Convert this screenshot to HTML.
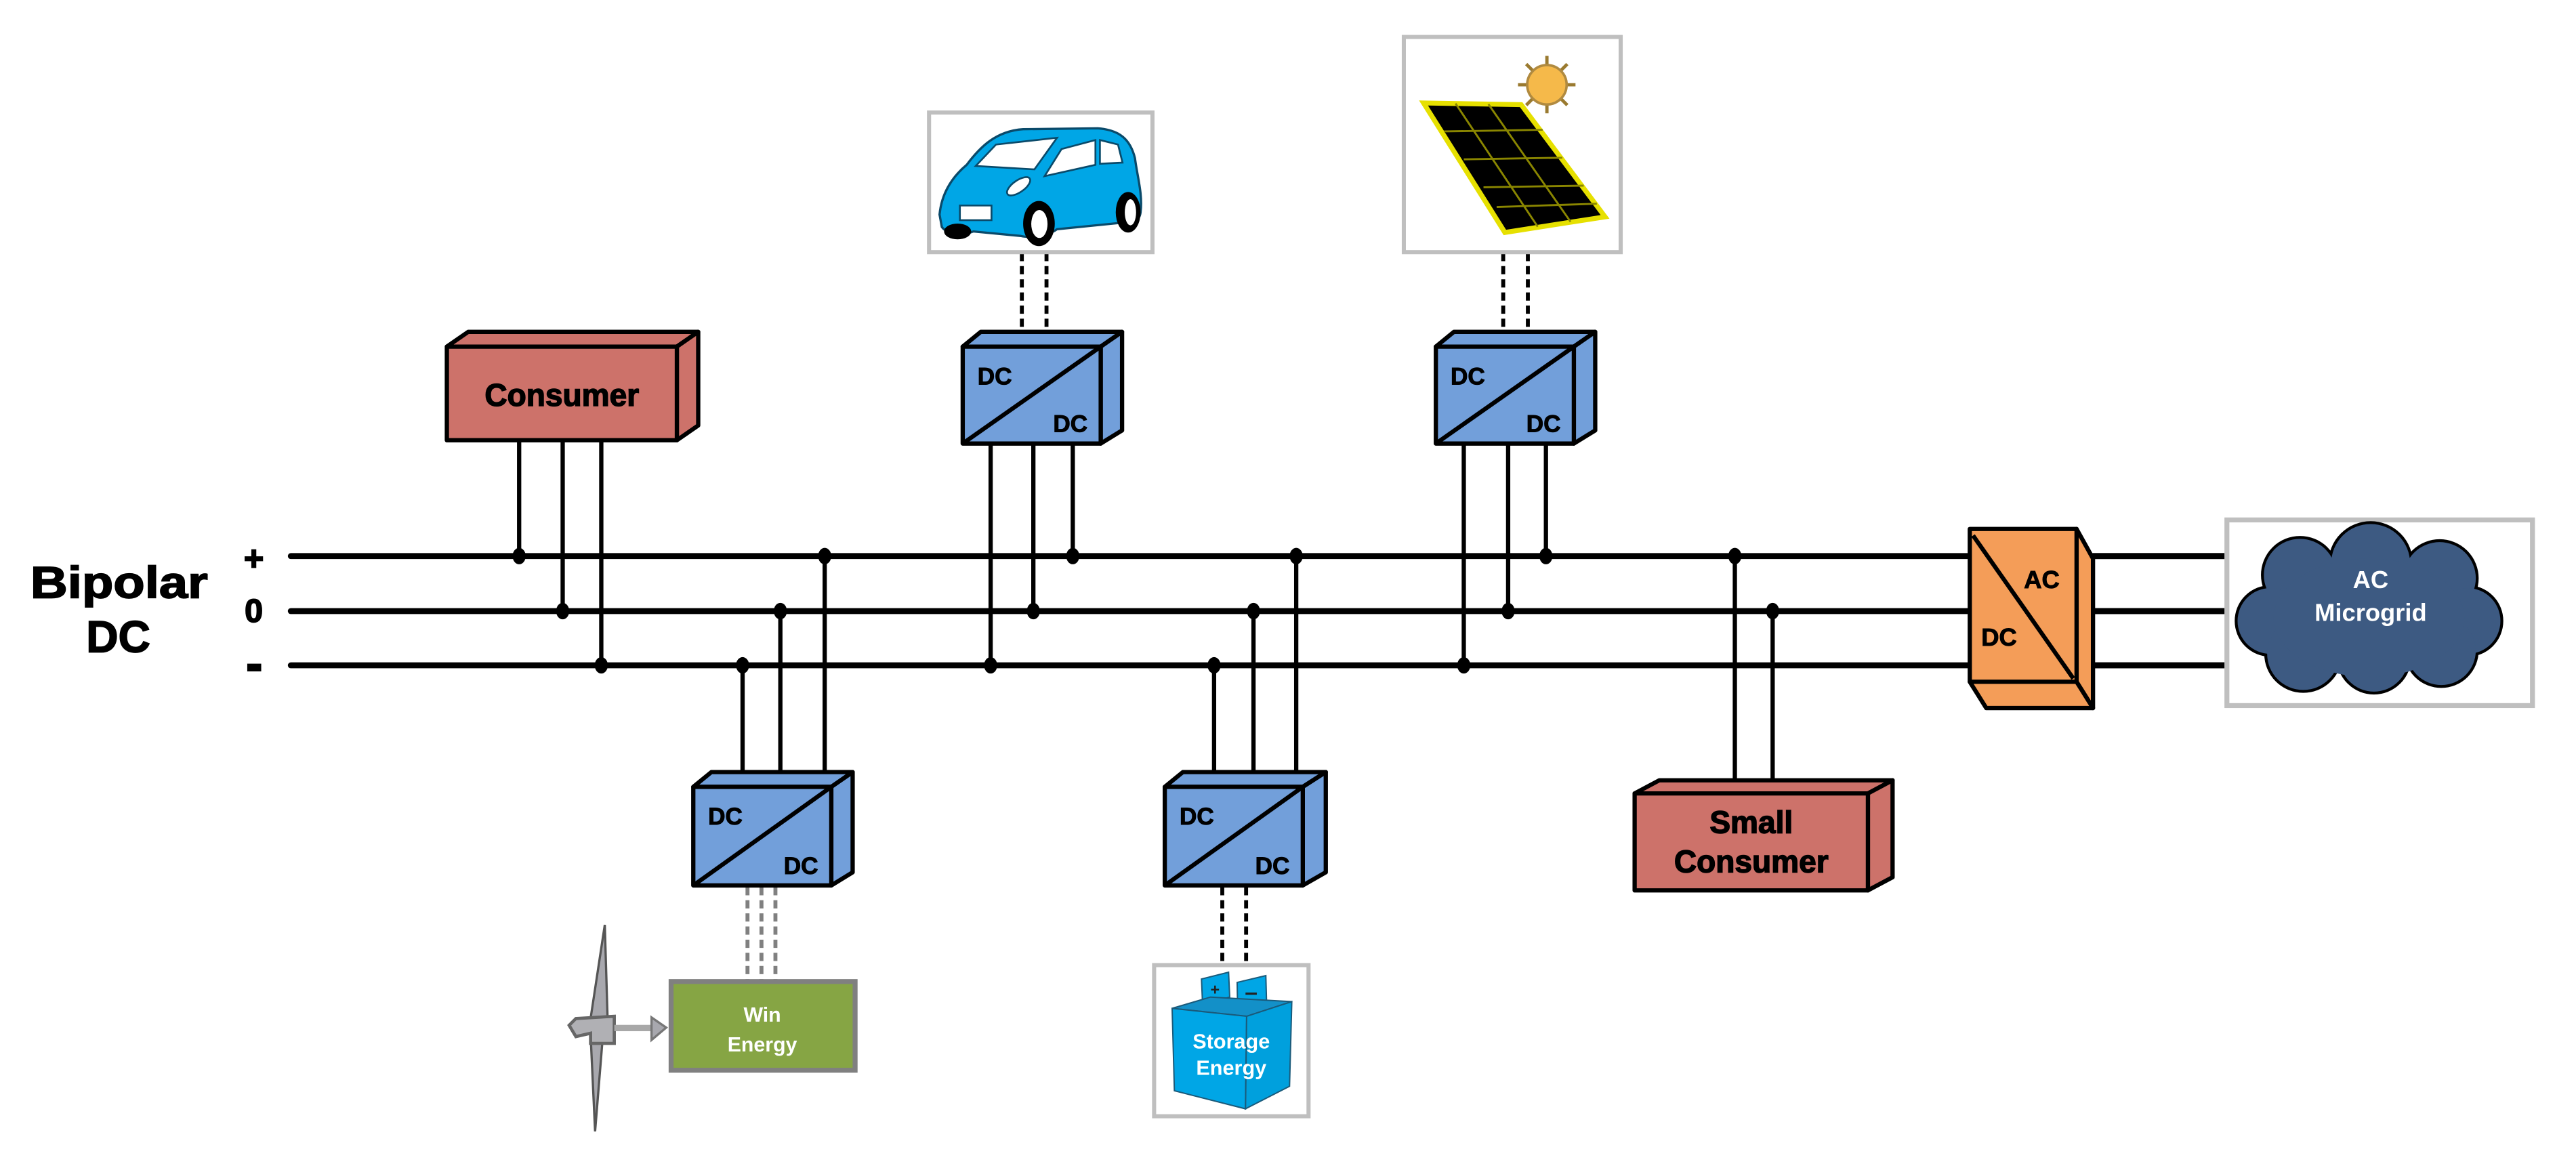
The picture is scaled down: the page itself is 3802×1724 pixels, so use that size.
<!DOCTYPE html>
<html><head><meta charset="utf-8"><style>html,body{margin:0;padding:0;background:#fff}svg{display:block}</style></head>
<body>
<svg width="3802" height="1724" viewBox="0 0 1568 711" xmlns="http://www.w3.org/2000/svg" font-family="Liberation Sans, Arial, sans-serif" font-weight="bold">
<rect width="1568" height="711" fill="#fff"/>

<!-- Labels -->
<g stroke="#000" stroke-width="0.7">
<text x="72.5" y="364" font-size="27" text-anchor="middle" textLength="108" lengthAdjust="spacingAndGlyphs">Bipolar</text>
<text x="72" y="397" font-size="27" text-anchor="middle">DC</text>
<text x="154.5" y="347" font-size="21" text-anchor="middle">+</text>
<text x="154.5" y="378.5" font-size="20" text-anchor="middle">0</text>
</g>
<rect x="150.5" y="404" width="8.5" height="4.7" fill="#000"/>

<!-- Bus lines -->
<g stroke="#000" stroke-width="3.6" stroke-linecap="round">
<line x1="177" y1="338.5" x2="1354" y2="338.5"/>
<line x1="177" y1="372" x2="1354" y2="372"/>
<line x1="177" y1="405" x2="1354" y2="405"/>
</g>

<!-- vertical wires -->
<g stroke="#000" stroke-width="2.6">
<line x1="316" y1="268" x2="316" y2="338"/>
<line x1="342.5" y1="268" x2="342.5" y2="372"/>
<line x1="366" y1="268" x2="366" y2="405"/>
<line x1="603" y1="270" x2="603" y2="405"/>
<line x1="629" y1="270" x2="629" y2="372"/>
<line x1="653" y1="270" x2="653" y2="338"/>
<line x1="891" y1="270" x2="891" y2="405"/>
<line x1="918" y1="270" x2="918" y2="372"/>
<line x1="941" y1="270" x2="941" y2="338"/>
<line x1="452" y1="405" x2="452" y2="480"/>
<line x1="475" y1="372" x2="475" y2="480"/>
<line x1="502" y1="338" x2="502" y2="480"/>
<line x1="739" y1="405" x2="739" y2="480"/>
<line x1="763" y1="372" x2="763" y2="480"/>
<line x1="789" y1="338" x2="789" y2="480"/>
<line x1="1056" y1="338" x2="1056" y2="483"/>
<line x1="1079" y1="372" x2="1079" y2="483"/>
</g>
<!-- dots -->
<g fill="#000">
<ellipse cx="316" cy="338.5" rx="4" ry="5"/>
<ellipse cx="342.5" cy="372" rx="4" ry="5"/>
<ellipse cx="366" cy="405" rx="4" ry="5"/>
<ellipse cx="603" cy="405" rx="4" ry="5"/>
<ellipse cx="629" cy="372" rx="4" ry="5"/>
<ellipse cx="653" cy="338.5" rx="4" ry="5"/>
<ellipse cx="891" cy="405" rx="4" ry="5"/>
<ellipse cx="918" cy="372" rx="4" ry="5"/>
<ellipse cx="941" cy="338.5" rx="4" ry="5"/>
<ellipse cx="452" cy="405" rx="4" ry="5"/>
<ellipse cx="475" cy="372" rx="4" ry="5"/>
<ellipse cx="502" cy="338.5" rx="4" ry="5"/>
<ellipse cx="739" cy="405" rx="4" ry="5"/>
<ellipse cx="763" cy="372" rx="4" ry="5"/>
<ellipse cx="789" cy="338.5" rx="4" ry="5"/>
<ellipse cx="1056" cy="338.5" rx="4" ry="5"/>
<ellipse cx="1079" cy="372" rx="4" ry="5"/>
</g>

<!-- Dashed connectors -->
<g stroke="#000" stroke-width="2.4" stroke-dasharray="5,3">
<line x1="622" y1="154" x2="622" y2="203"/>
<line x1="637" y1="154" x2="637" y2="203"/>
<line x1="915" y1="154" x2="915" y2="203"/>
<line x1="930" y1="154" x2="930" y2="203"/>
<line x1="744" y1="540" x2="744" y2="588"/>
<line x1="758.5" y1="540" x2="758.5" y2="588"/>
</g>
<g stroke="#808080" stroke-width="2.4" stroke-dasharray="5,3">
<line x1="455" y1="540" x2="455" y2="597"/>
<line x1="463.5" y1="540" x2="463.5" y2="597"/>
<line x1="472" y1="540" x2="472" y2="597"/>
</g>

<!-- Consumer -->
<g stroke="#000" stroke-width="2.6" stroke-linejoin="round" fill="#cd726a">
<polygon points="272,211 285,202 425,202 412,211"/>
<polygon points="412,211 425,202 425,259 412,268"/>
<rect x="272" y="211" width="140" height="57"/>
</g>
<g stroke="#000" stroke-width="0.6">
<text x="342" y="247" font-size="19" text-anchor="middle">Consumer</text>
<text x="1066" y="507" font-size="19" text-anchor="middle" fill="none" stroke="none"> </text>
</g>

<!-- Small Consumer -->
<g stroke="#000" stroke-width="2.6" stroke-linejoin="round" fill="#cd726a">
<polygon points="995,483 1010,475 1152,475 1137,483"/>
<polygon points="1137,483 1152,475 1152,534 1137,542"/>
<rect x="995" y="483" width="142" height="59"/>
</g>
<g stroke="#000" stroke-width="0.6">
<text x="1066" y="507" font-size="19" text-anchor="middle">Small</text>
<text x="1066" y="531" font-size="19" text-anchor="middle">Consumer</text>
</g>

<!-- DC/DC converters -->
<g stroke="#000" stroke-width="2.6" stroke-linejoin="round" fill="#729fda">
<polygon points="586,211 597,202 683,202 670,211"/>
<polygon points="670,211 683,202 683,262 670,270"/>
<rect x="586" y="211" width="84" height="59"/>
<line x1="586" y1="270" x2="670" y2="211"/>
<polygon points="874,211 885,202 971,202 958,211"/>
<polygon points="958,211 971,202 971,262 958,270"/>
<rect x="874" y="211" width="84" height="59"/>
<line x1="874" y1="270" x2="958" y2="211"/>
<polygon points="422,479 433,470 519,470 506,479"/>
<polygon points="506,479 519,470 519,531 506,539"/>
<rect x="422" y="479" width="84" height="60"/>
<line x1="422" y1="539" x2="506" y2="479"/>
<polygon points="709,479 720,470 807,470 793,479"/>
<polygon points="793,479 807,470 807,531 793,539"/>
<rect x="709" y="479" width="84" height="60"/>
<line x1="709" y1="539" x2="793" y2="479"/>
</g>
<g font-size="14.5" stroke="#000" stroke-width="0.4">
<text x="595" y="234">DC</text><text x="662" y="263" text-anchor="end">DC</text>
<text x="883" y="234">DC</text><text x="950" y="263" text-anchor="end">DC</text>
<text x="431" y="502">DC</text><text x="498" y="532" text-anchor="end">DC</text>
<text x="718" y="502">DC</text><text x="785" y="532" text-anchor="end">DC</text>
</g>

<!-- AC/DC converter -->
<g stroke="#000" stroke-width="2.6" stroke-linejoin="round" fill="#f49d58">
<polygon points="1264,322 1274,340 1274,431 1264,415"/>
<polygon points="1199,415 1264,415 1274,431 1209,431"/>
<rect x="1199" y="322" width="65" height="93"/>
<line x1="1201" y1="326" x2="1262" y2="413"/>
</g>
<g stroke="#000" stroke-width="3.6">
<line x1="1274" y1="338.5" x2="1354" y2="338.5"/>
<line x1="1274" y1="372" x2="1354" y2="372"/>
<line x1="1274" y1="405" x2="1354" y2="405"/>
</g>
<g stroke="#000" stroke-width="0.4">
<text x="1232" y="358" font-size="15">AC</text>
<text x="1206" y="393" font-size="15">DC</text>
</g>

<!-- AC Microgrid -->
<rect x="1355.5" y="316.5" width="186" height="113" fill="#fff" stroke="#bfbfbf" stroke-width="3"/>
<g stroke="#000" stroke-width="3.5">
<circle cx="1400" cy="350" r="22"/><circle cx="1443" cy="343" r="24"/><circle cx="1485" cy="352" r="22"/>
<circle cx="1382" cy="378" r="20"/><circle cx="1502" cy="378" r="20"/>
<circle cx="1402" cy="398" r="22"/><circle cx="1445" cy="400" r="21"/><circle cx="1486" cy="396" r="21"/>
</g>
<g fill="#3d5a82">
<circle cx="1400" cy="350" r="22"/><circle cx="1443" cy="343" r="24"/><circle cx="1485" cy="352" r="22"/>
<circle cx="1382" cy="378" r="20"/><circle cx="1502" cy="378" r="20"/>
<circle cx="1402" cy="398" r="22"/><circle cx="1445" cy="400" r="21"/><circle cx="1486" cy="396" r="21"/>
<ellipse cx="1442" cy="376" rx="58" ry="36"/>
</g>
<text x="1443" y="358" font-size="15" fill="#fff" text-anchor="middle">AC</text>
<text x="1443" y="378" font-size="15" fill="#fff" text-anchor="middle">Microgrid</text>

<!-- Car -->
<rect x="565.5" y="68.5" width="136" height="85" fill="#fff" stroke="#bfbfbf" stroke-width="2.5"/>
<svg x="560.9" y="66" width="148.5" height="90.7" viewBox="0 0 1080 660" preserveAspectRatio="none">
<path d="M80,470 C90,370 140,300 200,250 C260,170 330,100 450,92 L780,88 C880,95 925,140 945,220 C955,300 980,380 970,460 C965,500 930,515 900,505 L600,535 C560,565 480,575 440,565 L230,545 C180,565 110,555 90,525 Z" fill="#00a6e6" stroke="#0a4a6a" stroke-width="10"/>
<polygon points="240,255 330,160 600,130 500,270" fill="#fff" stroke="#0a4a6a" stroke-width="8"/>
<polygon points="545,300 620,180 770,140 770,250" fill="#fff" stroke="#0a4a6a" stroke-width="8"/>
<polygon points="790,140 870,160 890,240 790,245" fill="#fff" stroke="#0a4a6a" stroke-width="8"/>
<ellipse cx="430" cy="345" rx="60" ry="26" transform="rotate(-35 430 345)" fill="#fff" stroke="#0a4a6a" stroke-width="8"/>
<rect x="170" y="430" width="140" height="65" fill="#fff" stroke="#0a4a6a" stroke-width="8"/>
<ellipse cx="160" cy="545" rx="60" ry="35" fill="#000"/>
<ellipse cx="520" cy="510" rx="70" ry="100" fill="#000"/>
<ellipse cx="522" cy="512" rx="36" ry="62" fill="#fff"/>
<ellipse cx="915" cy="460" rx="55" ry="90" fill="#000"/>
<ellipse cx="925" cy="460" rx="25" ry="58" fill="#fff"/>
</svg>

<!-- Solar -->
<rect x="854.5" y="22.5" width="132" height="131" fill="#fff" stroke="#bfbfbf" stroke-width="2.5"/>
<g stroke="#9a7a30" stroke-width="2">
<line x1="941.6" y1="34" x2="941.6" y2="69"/><line x1="924" y1="51.6" x2="959" y2="51.6"/>
<line x1="929" y1="39" x2="954" y2="64"/><line x1="954" y1="39" x2="929" y2="64"/>
</g>
<circle cx="941.6" cy="51.6" r="12" fill="#f5b94a" stroke="#b08a40" stroke-width="1.5"/>
<polygon points="866.5,62.7 925.9,63.7 977,132 916,141.5" fill="#000" stroke="#e6e000" stroke-width="3"/>
<g stroke="#8a8600" stroke-width="1.2">
<line x1="886" y1="63" x2="936" y2="138"/><line x1="906" y1="63.4" x2="956" y2="135"/>
<line x1="879" y1="80" x2="939" y2="79"/><line x1="891" y1="97" x2="951" y2="96"/>
<line x1="903" y1="114" x2="964" y2="113"/><line x1="911" y1="126" x2="972" y2="124"/>
</g>

<!-- Storage -->
<rect x="702.5" y="587.5" width="94" height="92" fill="#fff" stroke="#bfbfbf" stroke-width="2.5"/>
<svg x="701.1" y="577.4" width="107.2" height="107.2" viewBox="0 0 780 780">
<polygon points="220,135 340,105 345,215 225,250" fill="#00a6e6" stroke="#1a5a7a" stroke-width="6"/>
<polygon points="378,150 505,120 508,230 380,265" fill="#00a6e6" stroke="#1a5a7a" stroke-width="6"/>
<polygon points="90,265 260,215 620,235 420,300" fill="#1390c8" stroke="#1a5a7a" stroke-width="6"/>
<polygon points="90,265 420,300 415,710 100,630" fill="#00a6e6" stroke="#1a5a7a" stroke-width="6"/>
<polygon points="420,300 620,235 610,610 415,710" fill="#00a0dd" stroke="#1a5a7a" stroke-width="6"/>
<text x="280" y="205" font-size="70" fill="#222" text-anchor="middle">+</text>
<rect x="415" y="195" width="50" height="10" fill="#222"/>
<text x="352" y="442" font-size="92" fill="#fff" text-anchor="middle">Storage</text>
<text x="352" y="560" font-size="92" fill="#fff" text-anchor="middle">Energy</text>
</svg>

<!-- Wind -->
<rect x="408.5" y="597.5" width="112" height="54" fill="#86a544" stroke="#808080" stroke-width="3"/>
<text x="464" y="622" font-size="12.5" fill="#fff" text-anchor="middle">Win</text>
<text x="464" y="640" font-size="12.5" fill="#fff" text-anchor="middle">Energy</text>
<svg x="329.9" y="556.8" width="185.6" height="154.2" viewBox="0 0 1350 1122">
<polygon points="278,45 290,450 215,460" fill="#a8a8ae" stroke="#555" stroke-width="10"/>
<polygon points="215,530 270,530 235,960" fill="#a8a8ae" stroke="#555" stroke-width="10"/>
<polygon points="120,490 150,460 320,450 320,570 215,570 215,525 150,540" fill="#b0b0b4" stroke="#666" stroke-width="14"/>
<rect x="320" y="488" width="170" height="28" fill="#a8a8a8"/>
<polygon points="485,455 550,500 485,555" fill="#a8a8ae" stroke="#777" stroke-width="10"/>
</svg>
</svg>
</body></html>
